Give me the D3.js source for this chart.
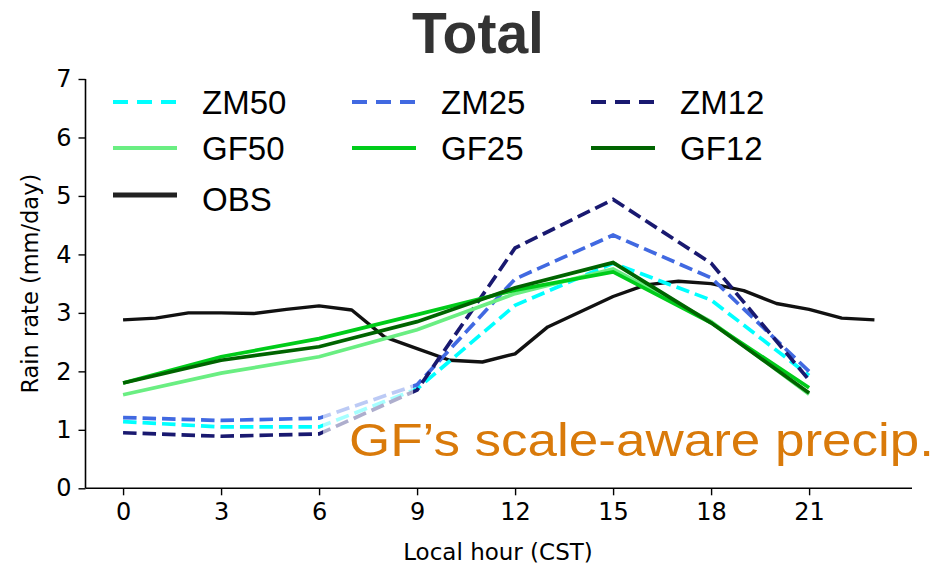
<!DOCTYPE html>
<html><head><meta charset="utf-8">
<script src="https://cdn.jsdelivr.net/npm/d3@7"></script>
<style>body{margin:0;background:#fff}svg{display:block}</style>
</head><body>
<svg id="c" width="934" height="569"></svg>
<script>
const hours3 = [0, 3, 6, 9, 12, 15, 18, 21];
const obsHours = d3.range(0, 24);
const ZM50 = [1.14, 1.05, 1.05, 1.70, 3.13, 3.85, 3.22, 1.93];
const ZM25 = [1.21, 1.16, 1.20, 1.77, 3.58, 4.33, 3.60, 2.00];
const ZM12 = [0.95, 0.89, 0.93, 1.68, 4.11, 4.94, 3.85, 1.85];
const GF50 = [1.60, 1.97, 2.25, 2.71, 3.33, 3.75, 2.85, 1.61];
const GF25 = [1.80, 2.25, 2.56, 2.97, 3.39, 3.70, 2.83, 1.72];
const GF12 = [1.80, 2.19, 2.42, 2.85, 3.43, 3.86, 2.83, 1.63];
const OBS = [2.88, 2.91, 3.00, 3.00, 2.99, 3.06, 3.12, 3.05, 2.59, 2.39, 2.19, 2.16,
             2.30, 2.76, 3.02, 3.28, 3.48, 3.54, 3.50, 3.38, 3.16, 3.06, 2.91, 2.88];
const xTicks = [0, 3, 6, 9, 12, 15, 18, 21];
const yTicks = [0, 1, 2, 3, 4, 5, 6, 7];

const series = [
  {name: "ZM50", x: hours3, v: ZM50, color: "#00ffff", dash: true},
  {name: "ZM25", x: hours3, v: ZM25, color: "#4169e1", dash: true},
  {name: "ZM12", x: hours3, v: ZM12, color: "#191970", dash: true},
  {name: "GF50", x: hours3, v: GF50, color: "#6aee82", dash: false},
  {name: "GF25", x: hours3, v: GF25, color: "#00cc1a", dash: false},
  {name: "GF12", x: hours3, v: GF12, color: "#006400", dash: false},
];
const obs = {name: "OBS", x: obsHours, v: OBS, color: "#111111"};

const svg = d3.select("#c");
const x = d3.scaleLinear().domain([-1.15, 24.15]).range([85.5, 912]);
const y = d3.scaleLinear().domain([0, 7]).range([488.3, 79]);

const tickFont = "DejaVu Sans";

// axes
const gx = svg.append("g").attr("transform", `translate(0,${y(0)})`)
  .call(d3.axisBottom(x).tickValues(xTicks).tickSize(7).tickPadding(8).tickFormat(d3.format("d")));
const gy = svg.append("g").attr("transform", `translate(${x.range()[0]},0)`)
  .call(d3.axisLeft(y).tickValues(yTicks).tickSize(7).tickPadding(7).tickFormat(d3.format("d")));
[gx, gy].forEach(g => {
  g.selectAll("path.domain").attr("stroke", "#000").attr("stroke-width", 1.6);
  g.selectAll(".tick line").attr("stroke", "#000").attr("stroke-width", 1.4);
  g.selectAll(".tick text").attr("fill", "#000").style("font-family", tickFont).style("font-size", "24px");
});
gx.select("path.domain").attr("d", `M${x.range()[0]},0H${x.range()[1]}`);
gy.select("path.domain").attr("d", `M0,${y(7)}V${y(0)}`);

svg.append("text").attr("x", 498).attr("y", 560).attr("text-anchor", "middle")
  .style("font-family", tickFont).style("font-size", "23px").attr("fill", "#000")
  .text("Local hour (CST)");
svg.append("text").attr("transform", `translate(38,${(y(0)+y(7))/2}) rotate(-90)`)
  .attr("text-anchor", "middle").style("font-family", tickFont).style("font-size", "22.5px").attr("fill", "#000")
  .text("Rain rate (mm/day)");

// lines
const line = d3.line().x(d => x(d[0])).y(d => y(d[1]));
const plot = svg.append("g");
plot.append("path").datum(obs.x.map((h, i) => [h, obs.v[i]]))
  .attr("d", line).attr("fill", "none").attr("stroke", obs.color).attr("stroke-width", 3.4)
  .attr("stroke-linejoin", "round");
series.forEach(s => {
  plot.append("path").datum(s.x.map((h, i) => [h, s.v[i]]))
    .attr("d", line).attr("fill", "none").attr("stroke", s.color).attr("stroke-width", 3.7)
    .attr("stroke-dasharray", s.dash ? "13.5,6" : null);
});

// faded patch over dashed lines between 6 and 9 h
svg.append("rect").attr("x", x(6) + 4).attr("y", y(1.8)).attr("width", x(9) - x(6) - 8).attr("height", y(0.6) - y(1.8))
  .attr("fill", "#fff").attr("opacity", 0.65);

// legend
const legCols = [113, 352, 591];
const legRows = [102, 148, 195];
const legItems = series.map((s, i) => ({s, col: i % 3, row: Math.floor(i / 3)}));
legItems.push({s: {name: "OBS", color: "#222", dash: false, obs: true}, col: 0, row: 2});
const leg = svg.append("g");
legItems.forEach(it => {
  const x0 = legCols[it.col], yy = legRows[it.row];
  leg.append("line").attr("x1", x0).attr("x2", x0 + 64).attr("y1", yy).attr("y2", yy)
    .attr("stroke", it.s.color).attr("stroke-width", it.s.obs ? 5 : 4)
    .attr("stroke-dasharray", it.s.dash ? "15,9" : null);
  leg.append("text").attr("x", x0 + 89).attr("y", yy + (it.s.obs ? 16 : 12))
    .style("font-family", "Liberation Sans, Arial, sans-serif").style("font-size", "33px").attr("fill", "#000")
    .text(it.s.name);
});

// title
svg.append("text").attr("x", 478).attr("y", 53).attr("text-anchor", "middle")
  .style("font-family", "Liberation Sans, Arial, sans-serif").style("font-weight", "bold").style("font-size", "57px")
  .attr("fill", "#333").text("Total");

// annotation
svg.append("text").attr("x", 349).attr("y", 456)
  .style("font-family", "Liberation Sans, Arial, sans-serif").style("font-size", "46px")
  .attr("fill", "#d97a0a").attr("textLength", 585).attr("lengthAdjust", "spacingAndGlyphs")
  .text("GF’s scale-aware precip.");
</script>
</body></html>
